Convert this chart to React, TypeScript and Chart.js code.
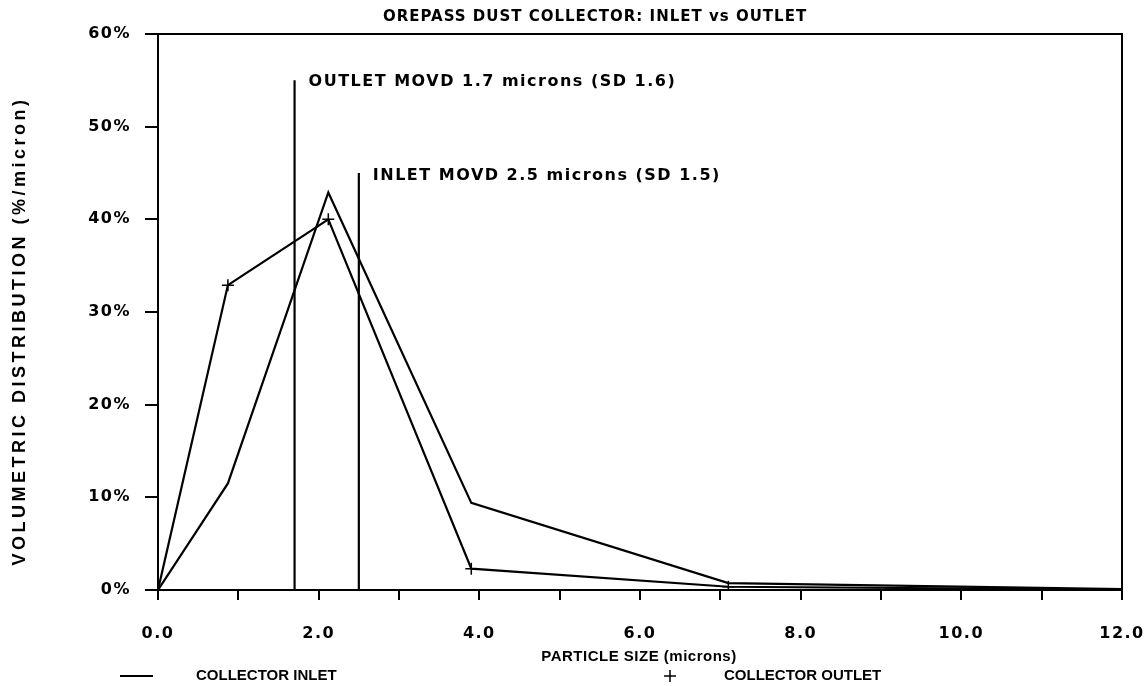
import React, { useEffect, useRef } from "react";
import { Chart, registerables } from "chart.js";

Chart.register(...registerables);

// Particle size (microns) at which both distributions are sampled
const sizes = [0, 0.87, 2.12, 3.9, 7.1, 12];
// Volumetric distribution (%/micron)
const inletValues = [0, 11.5, 42.9, 9.4, 0.75, 0.1];
const outletValues = [0, 32.9, 40.0, 2.3, 0.35, 0.05];

// MOVD markers: [x, top]
const outletMovd = [1.7, 55];
const inletMovd = [2.5, 45];
const outletMovdLabel = "OUTLET MOVD 1.7 microns (SD 1.6)";
const inletMovdLabel = "INLET MOVD 2.5 microns (SD 1.5)";

const titleText = "OREPASS DUST COLLECTOR: INLET vs OUTLET";
const xTitle = "PARTICLE SIZE (microns)";
const yTitle = "VOLUMETRIC DISTRIBUTION (%/micron)";
const legendInlet = "COLLECTOR INLET";
const legendOutlet = "COLLECTOR OUTLET";

const xMin = 0;
const xMax = 12;
const yMin = 0;
const yMax = 60;

const FONT = "'DejaVu Sans', sans-serif";
const NARROW = "'Liberation Sans Narrow', 'Liberation Sans', sans-serif";

export default function App() {
  const ref = useRef<HTMLCanvasElement | null>(null);

  useEffect(() => {
    if (!ref.current) return;

    const decor = {
      id: "decor",
      beforeLayout(chart: any) {
        chart.ctx.letterSpacing = "1.5px";
      },
      beforeDraw(chart: any) {
        const { ctx } = chart;
        ctx.letterSpacing = "1.5px";
        ctx.save();
        ctx.fillStyle = "#fff";
        ctx.fillRect(0, 0, chart.width, chart.height);
        ctx.restore();
      },
      afterDatasetsDraw(chart: any) {
        const { ctx, chartArea, scales } = chart;
        const xs = scales.x;
        const ys = scales.y;
        ctx.save();
        ctx.strokeStyle = "#000";
        ctx.lineWidth = 2;
        ctx.strokeRect(chartArea.left, chartArea.top, chartArea.right - chartArea.left, chartArea.bottom - chartArea.top);

        ctx.fillStyle = "#000";
        ctx.font = `bold 16px ${FONT}`;
        ctx.letterSpacing = "1.5px";
        ctx.textAlign = "left";
        ctx.textBaseline = "middle";
        ctx.fillText(outletMovdLabel, xs.getPixelForValue(outletMovd[0]) + 14, ys.getPixelForValue(outletMovd[1]) + 2);
        ctx.fillText(inletMovdLabel, xs.getPixelForValue(inletMovd[0]) + 14, ys.getPixelForValue(inletMovd[1]) + 3);
        ctx.restore();
      },
      afterDraw(chart: any) {
        const { ctx } = chart;
        ctx.save();
        ctx.fillStyle = "#000";
        ctx.strokeStyle = "#000";
        // title
        ctx.font = `bold 15px ${FONT}`;
        ctx.letterSpacing = "1px";
        ctx.textAlign = "center";
        ctx.textBaseline = "middle";
        ctx.fillText(titleText, 595, 17);
        // x title
        ctx.font = `bold 15px ${NARROW}`;
        ctx.letterSpacing = "0.5px";
        ctx.fillText(xTitle, 639, 657);
        // y title
        ctx.save();
        ctx.translate(20, 331);
        ctx.rotate(-Math.PI / 2);
        ctx.font = `bold 18px ${NARROW}`;
        ctx.letterSpacing = "3.5px";
        ctx.fillText(yTitle, 0, 0);
        ctx.restore();
        // legend
        ctx.lineWidth = 2;
        ctx.beginPath();
        ctx.moveTo(120, 676);
        ctx.lineTo(153, 676);
        ctx.stroke();
        ctx.font = `bold 15px ${NARROW}`;
        ctx.letterSpacing = "0px";
        ctx.textAlign = "left";
        ctx.fillText(legendInlet, 196, 676);
        ctx.fillText(legendOutlet, 724, 676);
        ctx.lineWidth = 1.5;
        ctx.beginPath();
        ctx.moveTo(664, 676);
        ctx.lineTo(676, 676);
        ctx.moveTo(670, 670);
        ctx.lineTo(670, 682);
        ctx.stroke();
        ctx.restore();
      },
    };

    const chart = new Chart(ref.current, {
      type: "scatter",
      data: {
        datasets: [
          {
            label: legendInlet,
            data: sizes.map((s, i) => ({ x: s, y: inletValues[i] })),
            showLine: true,
            borderColor: "#000",
            borderWidth: 2.2,
            pointRadius: 0,
            fill: false,
          },
          {
            label: legendOutlet,
            data: sizes.map((s, i) => ({ x: s, y: outletValues[i] })),
            showLine: true,
            borderColor: "#000",
            borderWidth: 2.2,
            pointStyle: "cross",
            pointRadius: 6,
            pointBorderWidth: 1.5,
            pointBorderColor: "#000",
            pointBackgroundColor: "#000",
            fill: false,
          },
          {
            label: "outlet movd",
            data: [
              { x: outletMovd[0], y: 0 },
              { x: outletMovd[0], y: outletMovd[1] },
            ],
            showLine: true,
            borderColor: "#000",
            borderWidth: 2.2,
            pointRadius: 0,
          },
          {
            label: "inlet movd",
            data: [
              { x: inletMovd[0], y: 0 },
              { x: inletMovd[0], y: inletMovd[1] },
            ],
            showLine: true,
            borderColor: "#000",
            borderWidth: 2.2,
            pointRadius: 0,
          },
        ],
      },
      options: {
        animation: false,
        responsive: true,
        maintainAspectRatio: false,
        layout: { padding: { top: 34, right: 25, left: 0, bottom: 0 } },
        plugins: {
          legend: { display: false },
          title: { display: false },
          tooltip: { enabled: false },
        },
        scales: {
          x: {
            type: "linear",
            min: xMin,
            max: xMax,
            afterFit(scale: any) {
              scale.height = 96;
              scale.paddingLeft = 0;
              scale.paddingRight = 0;
            },
            border: { color: "#000", width: 2 },
            grid: {
              drawOnChartArea: false,
              drawTicks: true,
              tickLength: 10,
              color: "#000",
              lineWidth: 2,
            },
            ticks: {
              stepSize: 1,
              autoSkip: false,
              maxRotation: 0,
              padding: 24,
              color: "#000",
              font: { family: FONT, size: 16, weight: "bold" },
              callback: (v: any) => (Number(v) % 2 === 0 ? Number(v).toFixed(1) : ""),
            },
          },
          y: {
            type: "linear",
            min: yMin,
            max: yMax,
            afterFit(scale: any) {
              scale.width = 158;
              scale.paddingTop = 0;
              scale.paddingBottom = 0;
            },
            border: { color: "#000", width: 2 },
            grid: {
              drawOnChartArea: false,
              drawTicks: true,
              tickLength: 13,
              color: "#000",
              lineWidth: 2,
            },
            ticks: {
              stepSize: 10,
              padding: 14,
              color: "#000",
              font: { family: FONT, size: 16, weight: "bold" },
              callback: (v: any) => `${v}%`,
            },
          },
        },
      },
      plugins: [decor],
    } as any);

    return () => chart.destroy();
  }, []);

  return (
    <div style={{ position: "absolute", left: 0, top: 0, width: 1147, height: 686, background: "#fff" }}>
      <canvas ref={ref} />
    </div>
  );
}
